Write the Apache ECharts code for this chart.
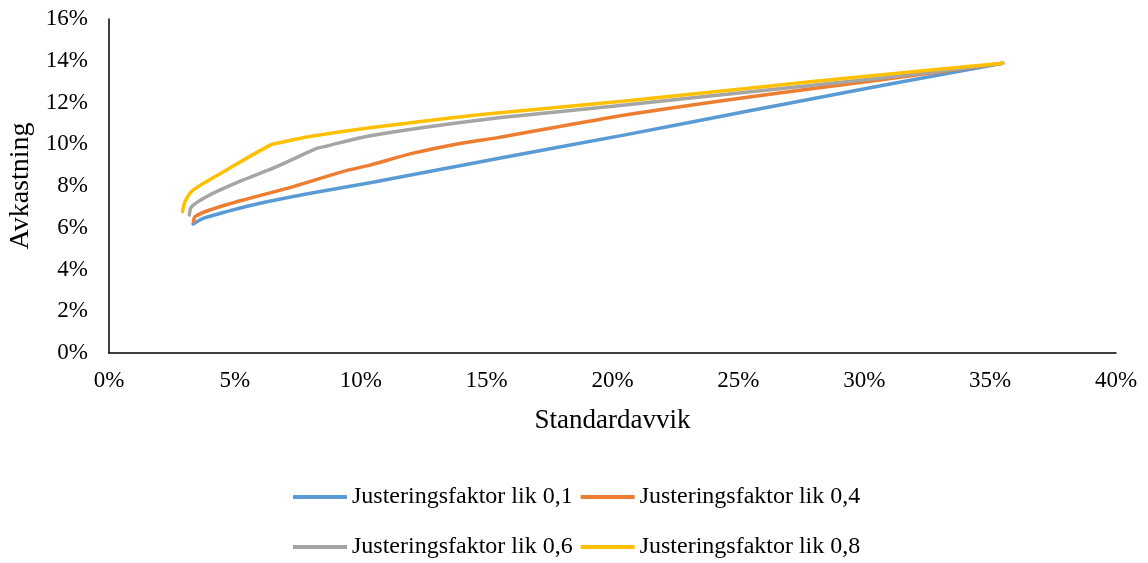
<!DOCTYPE html>
<html>
<head>
<meta charset="utf-8">
<script src="https://cdn.jsdelivr.net/npm/echarts@6/dist/echarts.min.js"></script>
<style>
  html, body { margin: 0; padding: 0; background: #fff; overflow: hidden; }
  #chart { width: 1148px; height: 563px; }
</style>
</head>
<body>
<div id="chart"></div>
<script>
// Efficient frontiers: standard deviation (%) vs. expected return (%)
const seriesNames = [
  'Justeringsfaktor lik 0,1',
  'Justeringsfaktor lik 0,4',
  'Justeringsfaktor lik 0,6',
  'Justeringsfaktor lik 0,8'
];

const frontier01 = [
  [3.34, 6.18], [3.74, 6.45], [4.67, 6.77], [6.0, 7.17], [8.0, 7.65],
  [10.37, 8.16], [15.5, 9.33], [20.5, 10.45], [25.5, 11.62], [30.6, 12.79], [35.5, 13.88]
];
const frontier04 = [
  [3.35, 6.29], [3.42, 6.53], [4.0, 6.85], [5.33, 7.33], [7.32, 7.97],
  [9.31, 8.70], [10.37, 9.0], [12.0, 9.55], [14.0, 10.05], [15.5, 10.33],
  [20.5, 11.4], [25.5, 12.28], [30.6, 13.08], [35.5, 13.88]
];
const frontier06 = [
  [3.19, 6.61], [3.28, 7.01], [4.0, 7.57], [5.33, 8.29], [6.66, 8.93],
  [8.25, 9.8], [8.6, 9.9], [10.37, 10.41], [15.0, 11.2], [20.5, 11.88],
  [25.5, 12.52], [30.6, 13.16], [35.5, 13.88]
];
const frontier08 = [
  [2.92, 6.77], [3.02, 7.26], [3.35, 7.81], [4.67, 8.77], [6.4, 9.96],
  [6.8, 10.08], [7.98, 10.37], [10.37, 10.79], [15.0, 11.45], [20.5, 12.07],
  [25.5, 12.7], [30.6, 13.32], [35.5, 13.88]
];

const colors = ['#5B9BD5', '#ED7D31', '#A5A5A5', '#FFC000'];
const frontiers = [frontier01, frontier04, frontier06, frontier08];

const font = 'Liberation Serif, Times New Roman, serif';

const legendBase = {
  left: 293,
  padding: 0,
  itemWidth: 54, itemHeight: 4, itemGap: 8,
  icon: 'rect',
  textStyle: { fontFamily: font, fontSize: 24, color: '#000' }
};

const chart = echarts.init(document.getElementById('chart'));
chart.setOption({
  animation: false,
  color: colors,
  textStyle: { fontFamily: font, color: '#000' },
  grid: { left: 109, right: 32, top: 19, bottom: 210, containLabel: false, outerBoundsMode: 'none' },
  xAxis: {
    type: 'value',
    min: 0, max: 40, interval: 5,
    name: 'Standardavvik',
    nameLocation: 'middle',
    nameGap: 54,
    nameTextStyle: { fontFamily: font, fontSize: 27, color: '#000' },
    axisLine: { show: true, lineStyle: { color: '#000', width: 1.5 } },
    axisTick: { show: false },
    splitLine: { show: false },
    axisLabel: { formatter: '{value}%', fontFamily: font, fontSize: 23, color: '#000', margin: 16 }
  },
  yAxis: {
    type: 'value',
    min: 0, max: 16, interval: 2,
    name: 'Avkastning',
    nameLocation: 'middle',
    nameGap: 68,
    nameRotate: 90,
    nameTextStyle: { fontFamily: font, fontSize: 28, color: '#000' },
    axisLine: { show: true, lineStyle: { color: '#000', width: 1.5 } },
    axisTick: { show: false },
    splitLine: { show: false },
    axisLabel: { formatter: '{value}%', fontFamily: font, fontSize: 23, color: '#000', margin: 21 }
  },
  legend: [
    Object.assign({}, legendBase, { data: seriesNames.slice(0, 2), top: 485 }),
    Object.assign({}, legendBase, { data: seriesNames.slice(2, 4), top: 535 })
  ],
  series: seriesNames.map((name, i) => ({
    name: name,
    type: 'line',
    data: frontiers[i],
    smooth: 0.25,
    showSymbol: false,
    symbol: 'none',
    lineStyle: { width: 3.5, color: colors[i], cap: 'round' },
    itemStyle: { color: colors[i] }
  }))
});
</script>
</body>
</html>
